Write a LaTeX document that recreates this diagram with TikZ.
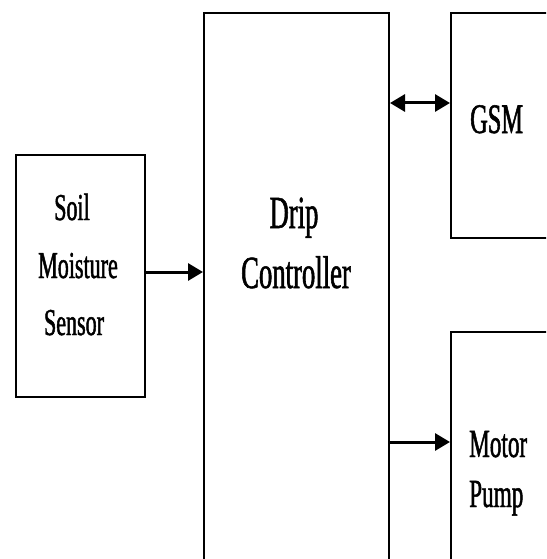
\documentclass[tikz,border=0pt]{standalone}
\usepackage{fontspec}
\newfontfamily\narrowserif[FakeStretch=0.58,FakeBold=1.2]{Liberation Serif}
\usetikzlibrary{arrows.meta}

\tikzset{
  blk/.style={draw,line width=2pt,inner sep=0pt},
  smalltxt/.style={inner sep=0pt,anchor=base,font=\narrowserif\fontsize{38}{40}\selectfont},
  bigtxt/.style={inner sep=0pt,anchor=base,font=\narrowserif\fontsize{46}{48}\selectfont},
  arr/.style={line width=3pt,-{Triangle[length=15pt,width=17pt]}},
  biarr/.style={line width=3pt,{Triangle[length=15pt,width=17pt]}-{Triangle[length=15pt,width=17pt]}}
}

\begin{document}
\begin{tikzpicture}[x=1pt,y=-1pt]
\useasboundingbox (0,0) rectangle (546,559);
\clip (0,0) rectangle (546,559);
\fill[white] (0,0) rectangle (546,559);

% blocks
\node[blk,minimum width=129pt,minimum height=242pt] (sensor) at (80.5,276) {};
\node[blk,minimum width=185pt,minimum height=587pt] (ctrl) at (296.5,306.5) {};
\node[blk,minimum width=199pt,minimum height=225pt] (gsm) at (550.5,125.5) {};
\node[blk,minimum width=199pt,minimum height=318pt] (pump) at (550.5,491) {};

% labels
\node[smalltxt] (soil) at (72,220) {Soil};
\node[smalltxt] (moist) at (78,278) {Moisture};
\node[smalltxt] (sens) at (74,335) {Sensor};
\node[bigtxt] (drip) at (294,228) {Drip};
\node[bigtxt] (contr) at (296,288) {Controller};
\node[bigtxt,anchor=base west,font=\narrowserif\fontsize{42}{44}\selectfont] (gsmtxt) at (470,133) {GSM};
\node[smalltxt,anchor=base west,font=\narrowserif\fontsize{40}{42}\selectfont] (motor) at (469,457) {Motor};
\node[smalltxt,anchor=base west,font=\narrowserif\fontsize{40}{42}\selectfont] (pumptxt) at (469,507) {Pump};

% connectors
\draw[arr] (sensor.east |- 0,272) -- (ctrl.west |- 0,272);
\draw[biarr] (ctrl.east |- 0,103) -- (gsm.west |- 0,103);
\draw[arr] (ctrl.east |- 0,442) -- (pump.west |- 0,442);
\end{tikzpicture}
\end{document}
